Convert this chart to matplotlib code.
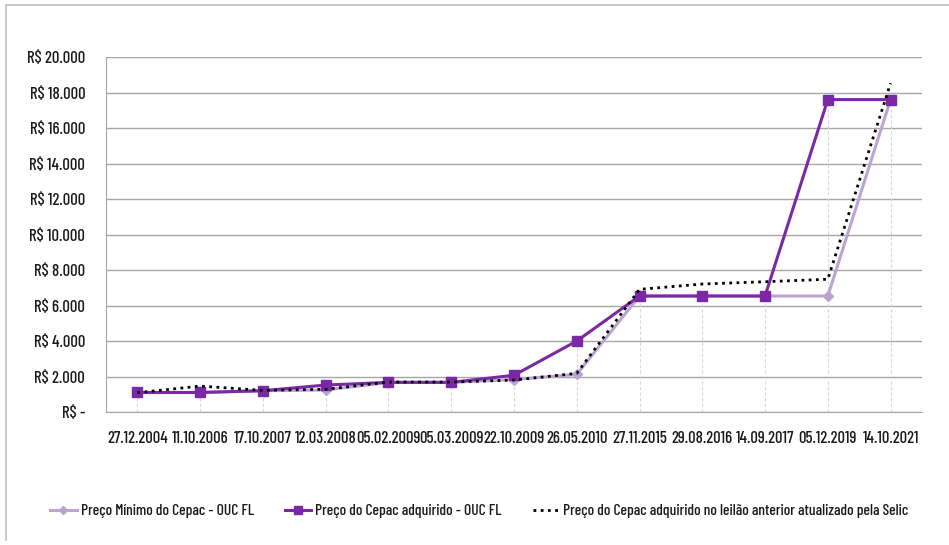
import numpy as np
import matplotlib
matplotlib.use("Agg")
import matplotlib.pyplot as plt
from matplotlib import font_manager
from matplotlib.lines import Line2D

# Datas dos leilões
datas = ["27.12.2004", "11.10.2006", "17.10.2007", "12.03.2008", "05.02.2009",
         "05.03.2009", "22.10.2009", "26.05.2010", "27.11.2015", "29.08.2016",
         "14.09.2017", "05.12.2019", "14.10.2021"]

# Preço mínimo do Cepac - OUC FL
preco_minimo = [1100, 1100, 1200, 1240, 1670, 1670, 1830, 2120,
                6535, 6535, 6535, 6535, 17601]
# Preço do Cepac adquirido - OUC FL
preco_adquirido = [1100, 1100, 1200, 1520, 1670, 1670, 2070, 4000,
                   6535, 6535, 6535, 17601, 17601]
# Preço do leilão anterior atualizado pela Selic
preco_selic = [1090, 1460, 1220, 1280, 1690, 1690, 1800, 2180,
               6910, 7210, 7340, 7480, 18520]

rotulos_y = ["R$ -", "R$ 2.000", "R$ 4.000", "R$ 6.000", "R$ 8.000", "R$ 10.000",
             "R$ 12.000", "R$ 14.000", "R$ 16.000", "R$ 18.000", "R$ 20.000"]

# Fonte estreita, a primeira que estiver instalada
nomes = {f.name for f in font_manager.fontManager.ttflist}
fonte = "DejaVu Sans"
for candidata in ["Barlow Condensed", "Fira Sans Extra Condensed", "Roboto Condensed",
                  "Archivo Narrow", "PT Sans Narrow"]:
    if candidata in nomes:
        fonte = candidata
        break
plt.rcParams["font.family"] = [fonte, "DejaVu Sans"]
plt.rcParams["font.weight"] = "medium"

roxo = "#7A28A6"
lilas = "#BBA4D2"

fig = plt.figure(figsize=(9.49, 5.45), dpi=100)
ax = fig.add_axes([0.1117, 0.244, 0.8598, 0.6514])

x = np.arange(len(datas))

# Linhas de queda até o eixo
topo = np.maximum(preco_minimo, preco_adquirido)
ax.vlines(x, 0, topo, colors="#D9D9D9", linestyles=(0, (3, 2)), linewidth=0.8, zorder=1)

ax.plot(x, preco_minimo, color=lilas, linewidth=2.2, marker="D", markersize=5,
        zorder=3, label="Preço Mínimo do Cepac - OUC FL")
ax.plot(x, preco_adquirido, color=roxo, linewidth=2.2, marker="s", markersize=7,
        zorder=4, label="Preço do Cepac adquirido - OUC FL")
ax.plot(x, preco_selic, color="black", linewidth=2.0, linestyle=(0, (1, 1.6)),
        zorder=5, label="Preço do Cepac adquirido no leilão anterior atualizado pela Selic")

ax.set_xlim(-0.5, len(datas) - 0.5)
ax.set_ylim(0, 20000)
ax.set_yticks(np.arange(0, 20001, 2000))
ax.set_yticklabels(rotulos_y, fontsize=12)
ax.set_xticks(x)
ax.set_xticklabels(datas, fontsize=12)
ax.tick_params(axis="both", length=0, colors="#1A1A1A")
ax.tick_params(axis="y", pad=15)
ax.tick_params(axis="x", pad=14)

ax.grid(axis="y", color="#A6A6A6", linewidth=1.0)
ax.set_axisbelow(True)
for lado in ["top", "right"]:
    ax.spines[lado].set_visible(False)
ax.spines["left"].set_color("#A6A6A6")
ax.spines["bottom"].set_color("#A6A6A6")

# Moldura da área do gráfico (topo e esquerda)
fig.add_artist(Line2D([6 / 949, 1], [1 - 5 / 545, 1 - 5 / 545], color="#BFBFBF",
                      linewidth=1.2, transform=fig.transFigure))
fig.add_artist(Line2D([6 / 949, 6 / 949], [1 - 5 / 545, 1 - 540 / 545], color="#BFBFBF",
                      linewidth=1.2, transform=fig.transFigure))

leg = fig.legend(loc="center", bbox_to_anchor=(0.505, 1 - 511 / 545), ncol=3,
                 frameon=False, fontsize=11.2, handlelength=1.7, handletextpad=0.25,
                 columnspacing=2.0, markerscale=0.8)
for t in leg.get_texts():
    t.set_color("#1A1A1A")

fig.savefig("out.png", dpi=100)
